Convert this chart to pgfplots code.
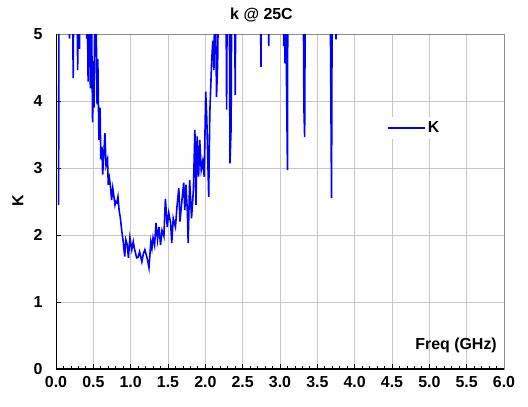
\documentclass[border=0pt]{standalone}
\usepackage{fontspec}
\setmainfont{Liberation Sans}
\usepackage{pgfplots}
\pgfplotsset{compat=1.18}
\begin{document}
\begin{tikzpicture}[x=1bp,y=1bp]
\useasboundingbox (-56,-37) rectangle (472,369);
\begin{axis}[at={(0,0)}, anchor=south west, scale only axis,
  width=448bp, height=335bp,
  xmin=0, xmax=6, ymin=0, ymax=5,
  xtick={0,0.5,1,1.5,2,2.5,3,3.5,4,4.5,5,5.5,6},
  ytick={0,1,2,3,4,5},
  minor x tick num=4,
  tick align=inside, tick pos=left,
  major tick length=5bp, minor tick length=3bp,
  tick style={black, line width=0.8bp},
  grid=major,
  major grid style={line width=1bp, color=black!22},
  axis line style={line width=1bp, color=black!45},
  /pgf/number format/assume math mode=true,
  xticklabel style={/pgf/number format/fixed, /pgf/number format/fixed zerofill, /pgf/number format/precision=1, yshift=-4bp},
  ticklabel style={font=\fontsize{16}{18}\selectfont\bfseries},
  yticklabel style={xshift=-10bp},
  legend style={at={(rel axis cs:0.80,0.72)}, anchor=center, draw=none, fill=white,
    font=\fontsize{16}{18}\selectfont\bfseries, inner sep=3bp},
  legend image code/.code={\draw[#1] (0bp,0bp) -- (37bp,0bp);},
]
\addplot[color=blue, line width=1.6bp] coordinates {
(0.035,2.45) (0.04,6) (0.17,6) (0.18,4.93) (0.19,6) (0.22,6) (0.23,4.34) (0.24,6)
(0.28,6) (0.29,4.46) (0.30,6) (0.315,4.78) (0.325,6) (0.40,6) (0.41,4.93) (0.415,6)
(0.43,4.29) (0.44,6) (0.46,4.19) (0.47,6) (0.49,3.68) (0.50,4.6) (0.51,3.9) (0.53,6)
(0.55,3.95) (0.56,4.63) (0.575,3.42) (0.59,3.9) (0.60,3.13) (0.615,3.32) (0.625,2.9)
(0.64,3.2) (0.655,3.52) (0.67,3.04) (0.69,3.13) (0.70,2.75) (0.715,2.85) (0.73,2.72)
(0.745,2.52) (0.76,2.7) (0.775,2.58) (0.79,2.45) (0.80,2.5) (0.815,2.48) (0.83,2.57)
(0.845,2.37) (0.86,2.27) (0.88,2.07) (0.90,1.9) (0.92,1.68) (0.935,1.93) (0.955,1.85)
(0.97,1.66) (0.99,1.96) (1.015,1.78) (1.035,1.9) (1.05,1.8) (1.08,1.66) (1.10,1.67)
(1.12,1.75) (1.15,1.6) (1.17,1.72) (1.19,1.78) (1.21,1.7) (1.225,1.63) (1.245,1.51)
(1.27,1.9) (1.285,1.8) (1.30,1.96) (1.32,1.85) (1.34,2.18) (1.36,1.93) (1.38,2.12)
(1.40,1.85) (1.42,2.07) (1.445,1.98) (1.465,2.54) (1.49,2.12) (1.51,2.33) (1.535,2.18)
(1.55,1.88) (1.57,2.25) (1.60,2.12) (1.62,2.42) (1.645,2.7) (1.66,2.2) (1.685,2.5)
(1.71,2.78) (1.725,2.37) (1.74,2.75) (1.76,2.33) (1.77,1.88) (1.79,2.82) (1.815,2.25)
(1.84,2.67) (1.86,3.57) (1.875,2.45) (1.89,3.47) (1.91,2.87) (1.925,3.42) (1.945,2.97)
(1.965,3.1) (1.985,2.87) (2.005,4.14) (2.02,3.72) (2.045,2.57) (2.06,3.82) (2.085,4.6)
(2.10,4.9) (2.115,4.46) (2.13,6) (2.15,4.06) (2.165,4.57) (2.18,6) (2.275,6) (2.285,3.87)
(2.295,6) (2.32,6) (2.33,3.07) (2.345,3.6) (2.355,6) (2.39,6) (2.40,4.09) (2.41,6)
(2.735,6) (2.745,4.51) (2.755,6) (2.845,6) (2.85,4.82) (2.855,6) (3.04,6) (3.05,4.82)
(3.06,6) (3.065,4.56) (3.07,6) (3.10,2.97) (3.105,6) (3.31,6) (3.32,3.91) (3.33,3.46)
(3.34,6) (3.67,6) (3.69,2.55) (3.70,6) (3.745,6) (3.75,4.92) (3.755,6) (6.0,6)
};
\addlegendentry{K}
\node[anchor=east, inner sep=0pt, font=\fontsize{16}{18}\selectfont\bfseries] at (axis cs:5.906,0.36) {Freq (GHz)};
\draw[black, line width=1.2bp] (rel axis cs:0,1) -- (rel axis cs:0,0) -- (rel axis cs:1,0);
\end{axis}
\node[font=\fontsize{16}{18}\selectfont\bfseries] at (205.5,354) {k @ 25C};
\node[rotate=90, font=\fontsize{16}{18}\selectfont\bfseries] at (-38,168) {K};
\end{tikzpicture}
\end{document}
